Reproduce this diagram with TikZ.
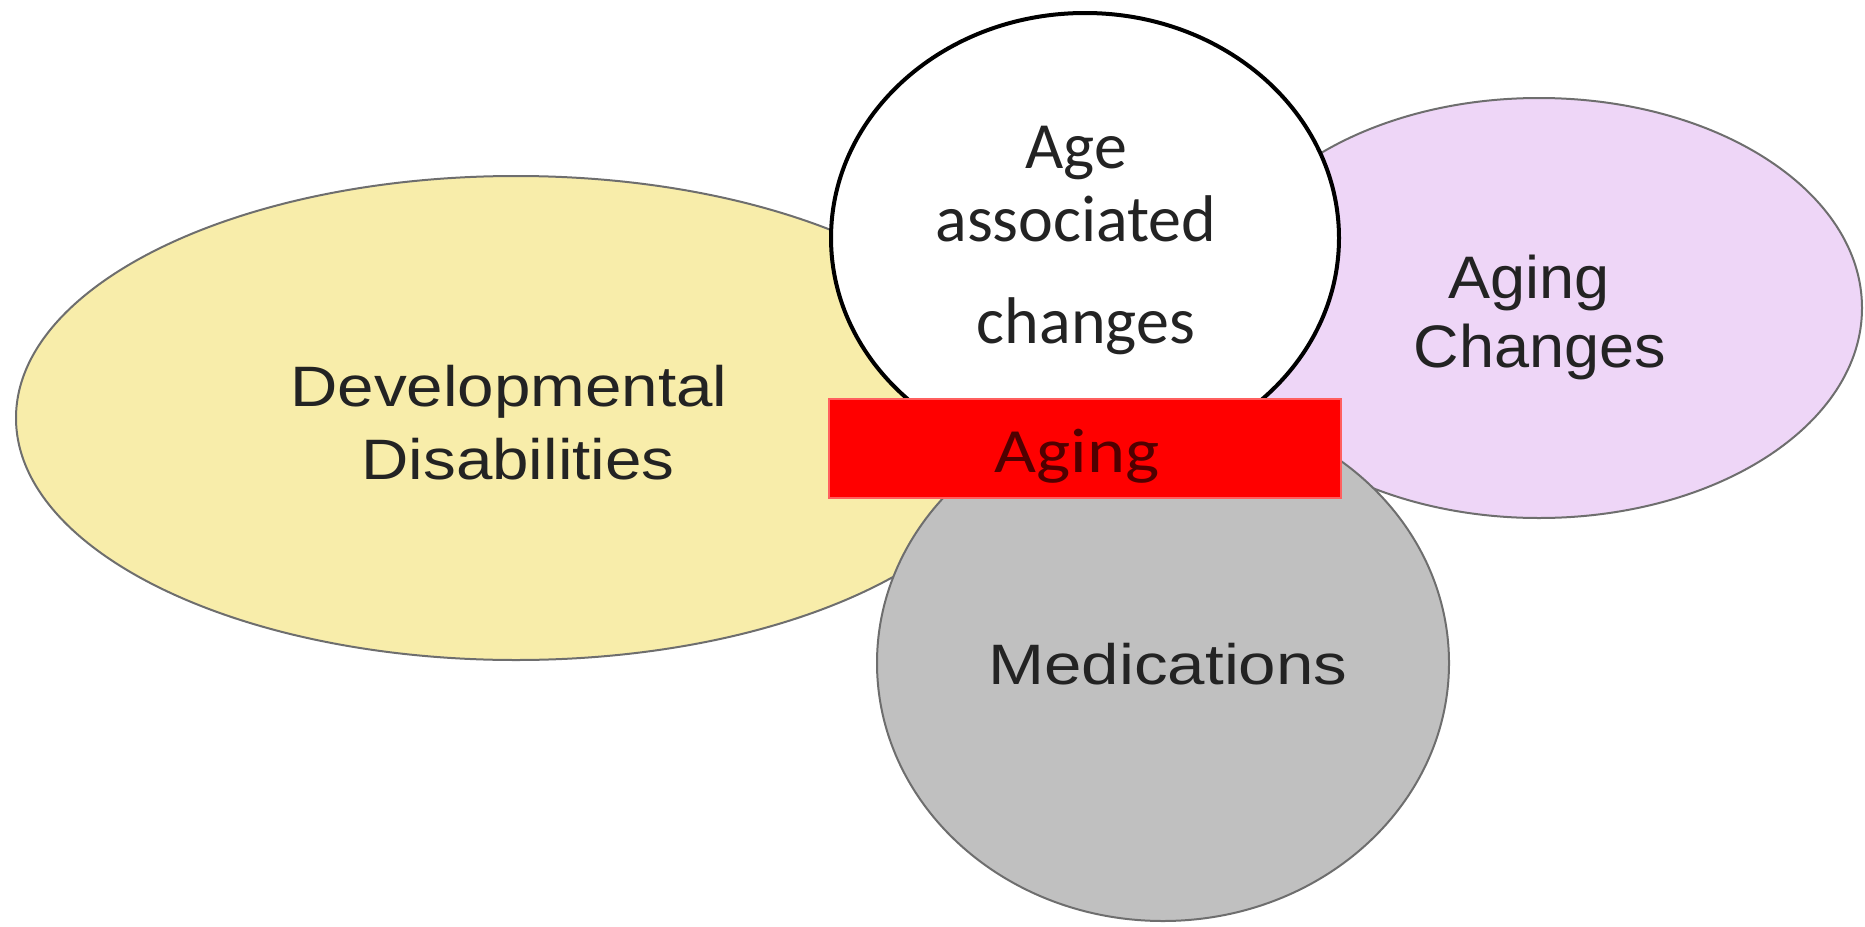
\documentclass[tikz,border=0pt]{standalone}
\usepackage{fontspec}
\usetikzlibrary{shapes.geometric}
\newfontfamily\fdd[FakeStretch=1.15]{Liberation Sans}
\newfontfamily\fmed[FakeStretch=1.18]{Liberation Sans}
\newfontfamily\fpur[FakeStretch=1.05]{Liberation Sans}
\newfontfamily\fcal{Carlito}
\newfontfamily\fcalw[FakeStretch=1.15]{Carlito}
\definecolor{ddyellow}{RGB}{248,237,170}
\definecolor{agpurple}{RGB}{238,214,247}
\definecolor{medgray}{RGB}{192,192,192}
\definecolor{edgegray}{RGB}{110,110,110}
\definecolor{redrim}{RGB}{255,95,95}
\definecolor{txt}{RGB}{35,35,35}
\definecolor{redtxt}{RGB}{80,0,0}
\begin{document}
\begin{tikzpicture}[x=1pt,y=-1pt,
  blob/.style={ellipse, inner sep=0pt, line width=2pt, draw=edgegray},
  lbl/.style={anchor=base, inner sep=0pt, text=txt}]
\useasboundingbox (0,0) rectangle (1865,926);
% shapes
\node[blob, fill=ddyellow, minimum width=1000pt, minimum height=484pt] (dd) at (516,418) {};
\node[blob, fill=agpurple, minimum width=646pt, minimum height=420pt] (ac) at (1539,308) {};
\node[blob, fill=medgray, minimum width=572pt, minimum height=516pt] (med) at (1163,663) {};
\node[ellipse, inner sep=0pt, fill=white, draw=black, line width=4pt, minimum width=508pt, minimum height=450pt] (aac) at (1085,238) {};
\node[rectangle, inner sep=0pt, fill=red, draw=redrim, line width=2pt, minimum width=512pt, minimum height=99pt] (aging) at (1085,448.5) {};
% labels
\node[lbl, font=\fdd\fontsize{57pt}{60pt}\selectfont] (dd1) at (509,406) {Developmental};
\node[lbl, font=\fdd\fontsize{57pt}{60pt}\selectfont] (dd2) at (518,479) {Disabilities};
\node[lbl, font=\fcal\fontsize{66pt}{70pt}\selectfont] (aac1) at (1076,168) {Age};
\node[lbl, font=\fcal\fontsize{66pt}{70pt}\selectfont] (aac2) at (1076,241) {associated};
\node[lbl, font=\fcal\fontsize{66pt}{70pt}\selectfont] (aac3) at (1086,343) {changes};
\node[lbl, font=\fpur\fontsize{60pt}{64pt}\selectfont] (ac1) at (1529,298) {Aging};
\node[lbl, font=\fpur\fontsize{60pt}{64pt}\selectfont] (ac2) at (1540,367) {Changes};
\node[lbl, font=\fmed\fontsize{57pt}{60pt}\selectfont] (med1) at (1168,684) {Medications};
\node[lbl, text=redtxt, font=\fcalw\fontsize{63pt}{66pt}\selectfont] (aging1) at (1077,472) {Aging};
\end{tikzpicture}
\end{document}
